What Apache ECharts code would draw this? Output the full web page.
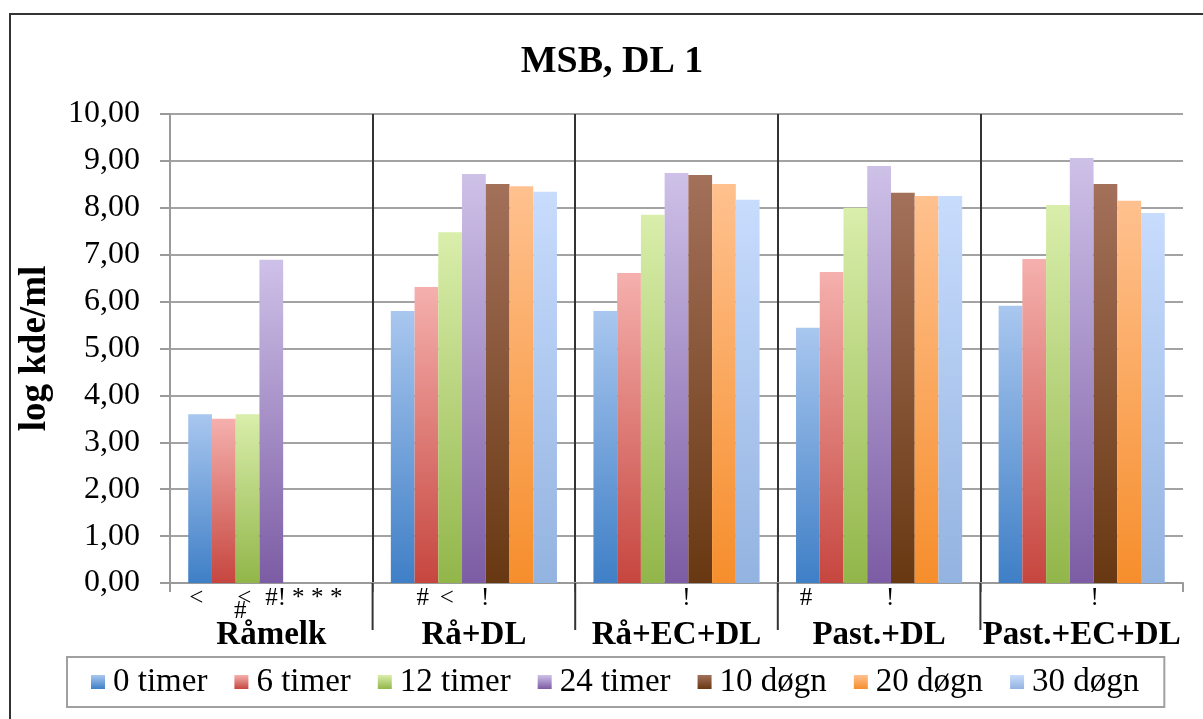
<!DOCTYPE html>
<html>
<head>
<meta charset="utf-8">
<script src="https://cdn.jsdelivr.net/npm/echarts@6/dist/echarts.min.js"></script>
<style>
  html, body { margin: 0; padding: 0; background: #fff; }
  #chart { width: 1203px; height: 719px; }
</style>
</head>
<body>
<div id="chart"></div>
<script>
// Groups along the x axis
const categories = ['Råmelk', 'Rå+DL', 'Rå+EC+DL', 'Past.+DL', 'Past.+EC+DL'];

// Sampling times (one bar series each)
const seriesNames = ['0 timer', '6 timer', '12 timer', '24 timer', '10 døgn', '20 døgn', '30 døgn'];

// log kde/ml per group, one array per sampling time
const timer0  = [3.60, 5.80, 5.80, 5.44, 5.91];
const timer6  = [3.50, 6.31, 6.61, 6.63, 6.91];
const timer12 = [3.60, 7.48, 7.85, 8.00, 8.06];
const timer24 = [6.89, 8.72, 8.74, 8.89, 9.06];
const dogn10  = [null, 8.51, 8.70, 8.32, 8.51];
const dogn20  = [null, 8.46, 8.51, 8.25, 8.15];
const dogn30  = [null, 8.34, 8.17, 8.25, 7.89];
const seriesValues = [timer0, timer6, timer12, timer24, dogn10, dogn20, dogn30];

// Y axis range / ticks
const yMin = 0, yMax = 10, yStep = 1;

// Significance marks written under the bars: [group, sampling time, mark, row]
const marks = [
  ['Råmelk', '0 timer', '<', 0],
  ['Råmelk', '12 timer', '<', 0],
  ['Råmelk', '12 timer', '#', 1],
  ['Råmelk', '24 timer', '#!', 0],
  ['Råmelk', '10 døgn', '*', 0],
  ['Råmelk', '20 døgn', '*', 0],
  ['Råmelk', '30 døgn', '*', 0],
  ['Rå+DL', '6 timer', '#', 0],
  ['Rå+DL', '12 timer', '<', 0],
  ['Rå+DL', '24 timer', '!', 0],
  ['Rå+EC+DL', '24 timer', '!', 0],
  ['Past.+DL', '0 timer', '#', 0],
  ['Past.+DL', '24 timer', '!', 0],
  ['Past.+EC+DL', '24 timer', '!', 0]
];

// ---- styling ----
const FONT = '"Liberation Serif", "Times New Roman", serif';
const gradients = [
  ['#a9c7ef', '#3f7fc6'],
  ['#f5b0ad', '#c6463f'],
  ['#d9eeab', '#92b64a'],
  ['#cec1e8', '#7c5ca4'],
  ['#a3705a', '#683812'],
  ['#ffc18f', '#f68e2c'],
  ['#c8dcfd', '#93b3e0']
];
// horizontal nudge of each mark, in bar widths (same order as marks)
const markNudge = [-0.16, -0.14, -0.31, 0.18, 0.14, -0.06, -0.26,
                   -0.15, -0.14, 0.47, 0.42, -0.08, 0.47, 0.55];
const CAT_GAP = 0.18;

const chart = echarts.init(document.getElementById('chart'), null, { renderer: 'canvas' });

const series = seriesNames.map((name, i) => ({
  name: name,
  type: 'bar',
  data: seriesValues[i],
  barGap: '0%',
  barCategoryGap: (CAT_GAP * 100) + '%',
  itemStyle: {
    color: new echarts.graphic.LinearGradient(0, 0, 0, 1, [
      { offset: 0, color: gradients[i][0] },
      { offset: 1, color: gradients[i][1] }
    ])
  },
  emphasis: { disabled: true }
}));

const option = {
  animation: false,
  backgroundColor: '#ffffff',
  title: {
    text: 'MSB, DL 1',
    left: 612,
    top: 43,
    padding: 0,
    textAlign: 'center',
    textStyle: { fontFamily: FONT, fontSize: 38, fontWeight: 'bold', color: '#000' }
  },
  legend: {
    data: seriesNames,
    left: 67,
    top: 657,
    padding: [8, 25, 8, 24],
    itemGap: 27,
    itemWidth: 14,
    itemHeight: 14,
    icon: 'rect',
    borderColor: '#a0a0a0',
    borderWidth: 2,
    textStyle: { fontFamily: FONT, fontSize: 33, color: '#000', lineHeight: 34, padding: [0, 0, 0, 3] }
  },
  grid: { left: 170, right: 20, top: 114, bottom: 136, containLabel: false },
  xAxis: {
    type: 'category',
    data: categories,
    axisLine: { show: true, lineStyle: { color: '#9a9a9a', width: 2 } },
    axisTick: { show: true, interval: 0, length: 9, lineStyle: { color: '#9a9a9a', width: 2 } },
    splitLine: { show: true, interval: 0, showMinLine: false, showMaxLine: false, lineStyle: { color: '#333', width: 2 } },
    axisLabel: { interval: 0, margin: 36, fontFamily: FONT, fontSize: 33, fontWeight: 'bold', color: '#000' }
  },
  yAxis: {
    type: 'value',
    min: yMin,
    max: yMax,
    interval: yStep,
    name: 'log kde/ml',
    nameLocation: 'middle',
    nameGap: 116,
    nameTextStyle: { fontFamily: FONT, fontSize: 37, fontWeight: 'bold', color: '#000' },
    axisLine: { show: true, lineStyle: { color: '#9a9a9a', width: 2 } },
    axisTick: { show: true, length: 10, lineStyle: { color: '#9a9a9a', width: 2 } },
    splitLine: { show: true, lineStyle: { color: '#a3a3a3', width: 2 } },
    axisLabel: {
      margin: 30,
      fontFamily: FONT, fontSize: 32, color: '#000',
      formatter: v => v.toFixed(2).replace('.', ',')
    }
  },
  series: series
};

chart.setOption(option);

// Dividers below the axis, frame, and significance marks, placed through the axes
function drawExtras() {
  const xAxisModel = chart.getModel().getComponent('xAxis', 0);
  const band = xAxisModel.axis.getBandWidth();
  const barW = band * (1 - CAT_GAP) / seriesNames.length;
  const y0 = chart.convertToPixel({ yAxisIndex: 0 }, yMin);

  const elements = [];
  // outer chart frame
  elements.push({
    type: 'rect', silent: true, z: 100,
    shape: { x: 10, y: 14, width: 1220, height: 740 },
    style: { fill: null, stroke: '#333', lineWidth: 2 }
  });
  // group dividers continuing below the axis
  for (let c = 1; c < categories.length; c++) {
    const xb = chart.convertToPixel({ xAxisIndex: 0 }, categories[c]) - band / 2;
    elements.push({
      type: 'line', silent: true, z: 50,
      shape: { x1: xb, y1: y0, x2: xb, y2: y0 + 47 },
      style: { stroke: '#333', lineWidth: 2 }
    });
  }
  // marks under bars
  marks.forEach((m, k) => {
    const cx = chart.convertToPixel({ xAxisIndex: 0 }, m[0]);
    const si = seriesNames.indexOf(m[1]);
    const x = cx + (si - (seriesNames.length - 1) / 2 + markNudge[k]) * barW;
    const y = y0 + 15 + m[3] * 13;
    elements.push({
      type: 'text', silent: true, z: 60,
      x: x, y: y,
      style: {
        text: m[2], fontFamily: FONT, fontSize: 25, fill: '#000',
        align: 'center', verticalAlign: 'middle'
      }
    });
  });
  chart.setOption({ graphic: { elements: elements } });
}
drawExtras();
</script>
</body>
</html>
